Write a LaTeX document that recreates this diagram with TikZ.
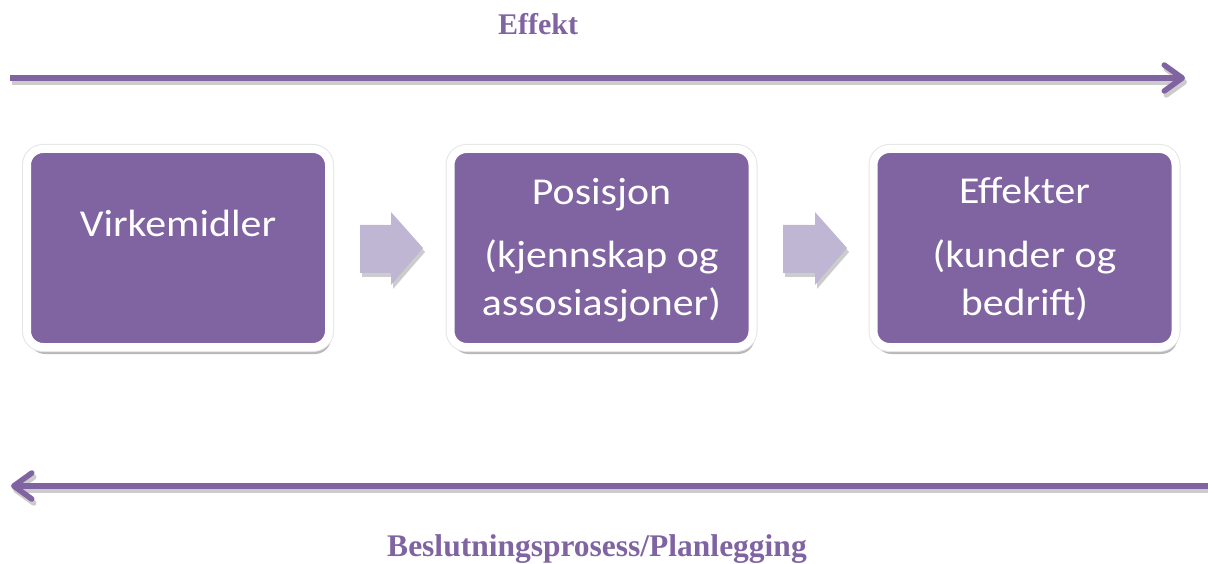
\documentclass[tikz,border=0pt]{standalone}
\usepackage{fontspec}
\setmainfont{Liberation Serif}
\newfontfamily\boxfont[FakeStretch=1.1]{Carlito}
\usetikzlibrary{arrows.meta,shadows}

\definecolor{accent}{HTML}{8064A2}
\definecolor{lavender}{HTML}{BFB6D3}

\tikzset{
  stagebox/.style={draw=white, line width=8pt, fill=accent, rounded corners=16pt,
    minimum width=302pt, minimum height=198pt, inner sep=0pt,
    drop shadow={shadow xshift=2pt, shadow yshift=-7pt, opacity=.28, fill=black},
    preaction={draw=black!10, line width=10pt}},
  stagetext/.style={anchor=base, text=white, inner sep=0pt,
    font=\boxfont\fontsize{38}{44}\selectfont},
  title/.style={anchor=base, text=accent, inner sep=0pt,
    font=\fontsize{30}{36}\selectfont\bfseries},
  flowline/.style={line width=5.5pt, -{Straight Barb[length=18pt, width=26pt, round]}},
  blockarrow/.style={fill=lavender,
    drop shadow={shadow xshift=2pt, shadow yshift=-4pt, opacity=.2, fill=black}}
}

\begin{document}
\begin{tikzpicture}[x=1pt, y=-1pt]
  \useasboundingbox (0,0) rectangle (1208,564);

  % direction arrows with their soft grey shadows
  \coordinate (t0) at (10,78);
  \coordinate (t1) at (1185,78);
  \coordinate (b0) at (1208,486);
  \coordinate (b1) at (11,486);
  \draw[flowline, draw=black!20, transform canvas={xshift=2pt, yshift=-4pt}] (t0) -- (t1);
  \draw[flowline, draw=accent] (t0) -- (t1);
  \draw[flowline, draw=black!20, transform canvas={xshift=2pt, yshift=-4pt}] (b0) -- (b1);
  \draw[flowline, draw=accent] (b0) -- (b1);

  \node[title] (effekt) at (538,35) {Effekt};
  \node[title, font=\fontsize{31.5}{36}\selectfont\bfseries] (planning) at (597,556)
    {Beslutningsprosess/Planlegging};

  % the three stages
  \node[stagebox] (s1) at (178,248) {};
  \node[stagebox] (s2) at (601.5,248) {};
  \node[stagebox] (s3) at (1024.5,248) {};

  \node[stagetext] (s1a) at (178,237) {Virkemidler};

  \node[stagetext] (s2a) at (601.5,205) {Posisjon};
  \node[stagetext] (s2b) at (601.5,268) {(kjennskap og};
  \node[stagetext] (s2c) at (601.5,315) {assosiasjoner)};

  \node[stagetext] (s3a) at (1024.5,204) {Effekter};
  \node[stagetext] (s3b) at (1024.5,268) {(kunder og};
  \node[stagetext] (s3c) at (1024.5,316) {bedrift)};

  % block arrows between the stages
  \coordinate (a1) at (360,225);
  \coordinate (a2) at (783,225);
  \fill[blockarrow] (a1) -- ++(31,0) -- ++(0,-13) -- ++(32,36)
        -- ++(-32,37) -- ++(0,-12) -- ++(-31,0) -- cycle;
  \fill[blockarrow] (a2) -- ++(32,0) -- ++(0,-13) -- ++(32,36)
        -- ++(-32,37) -- ++(0,-12) -- ++(-32,0) -- cycle;
\end{tikzpicture}
\end{document}
